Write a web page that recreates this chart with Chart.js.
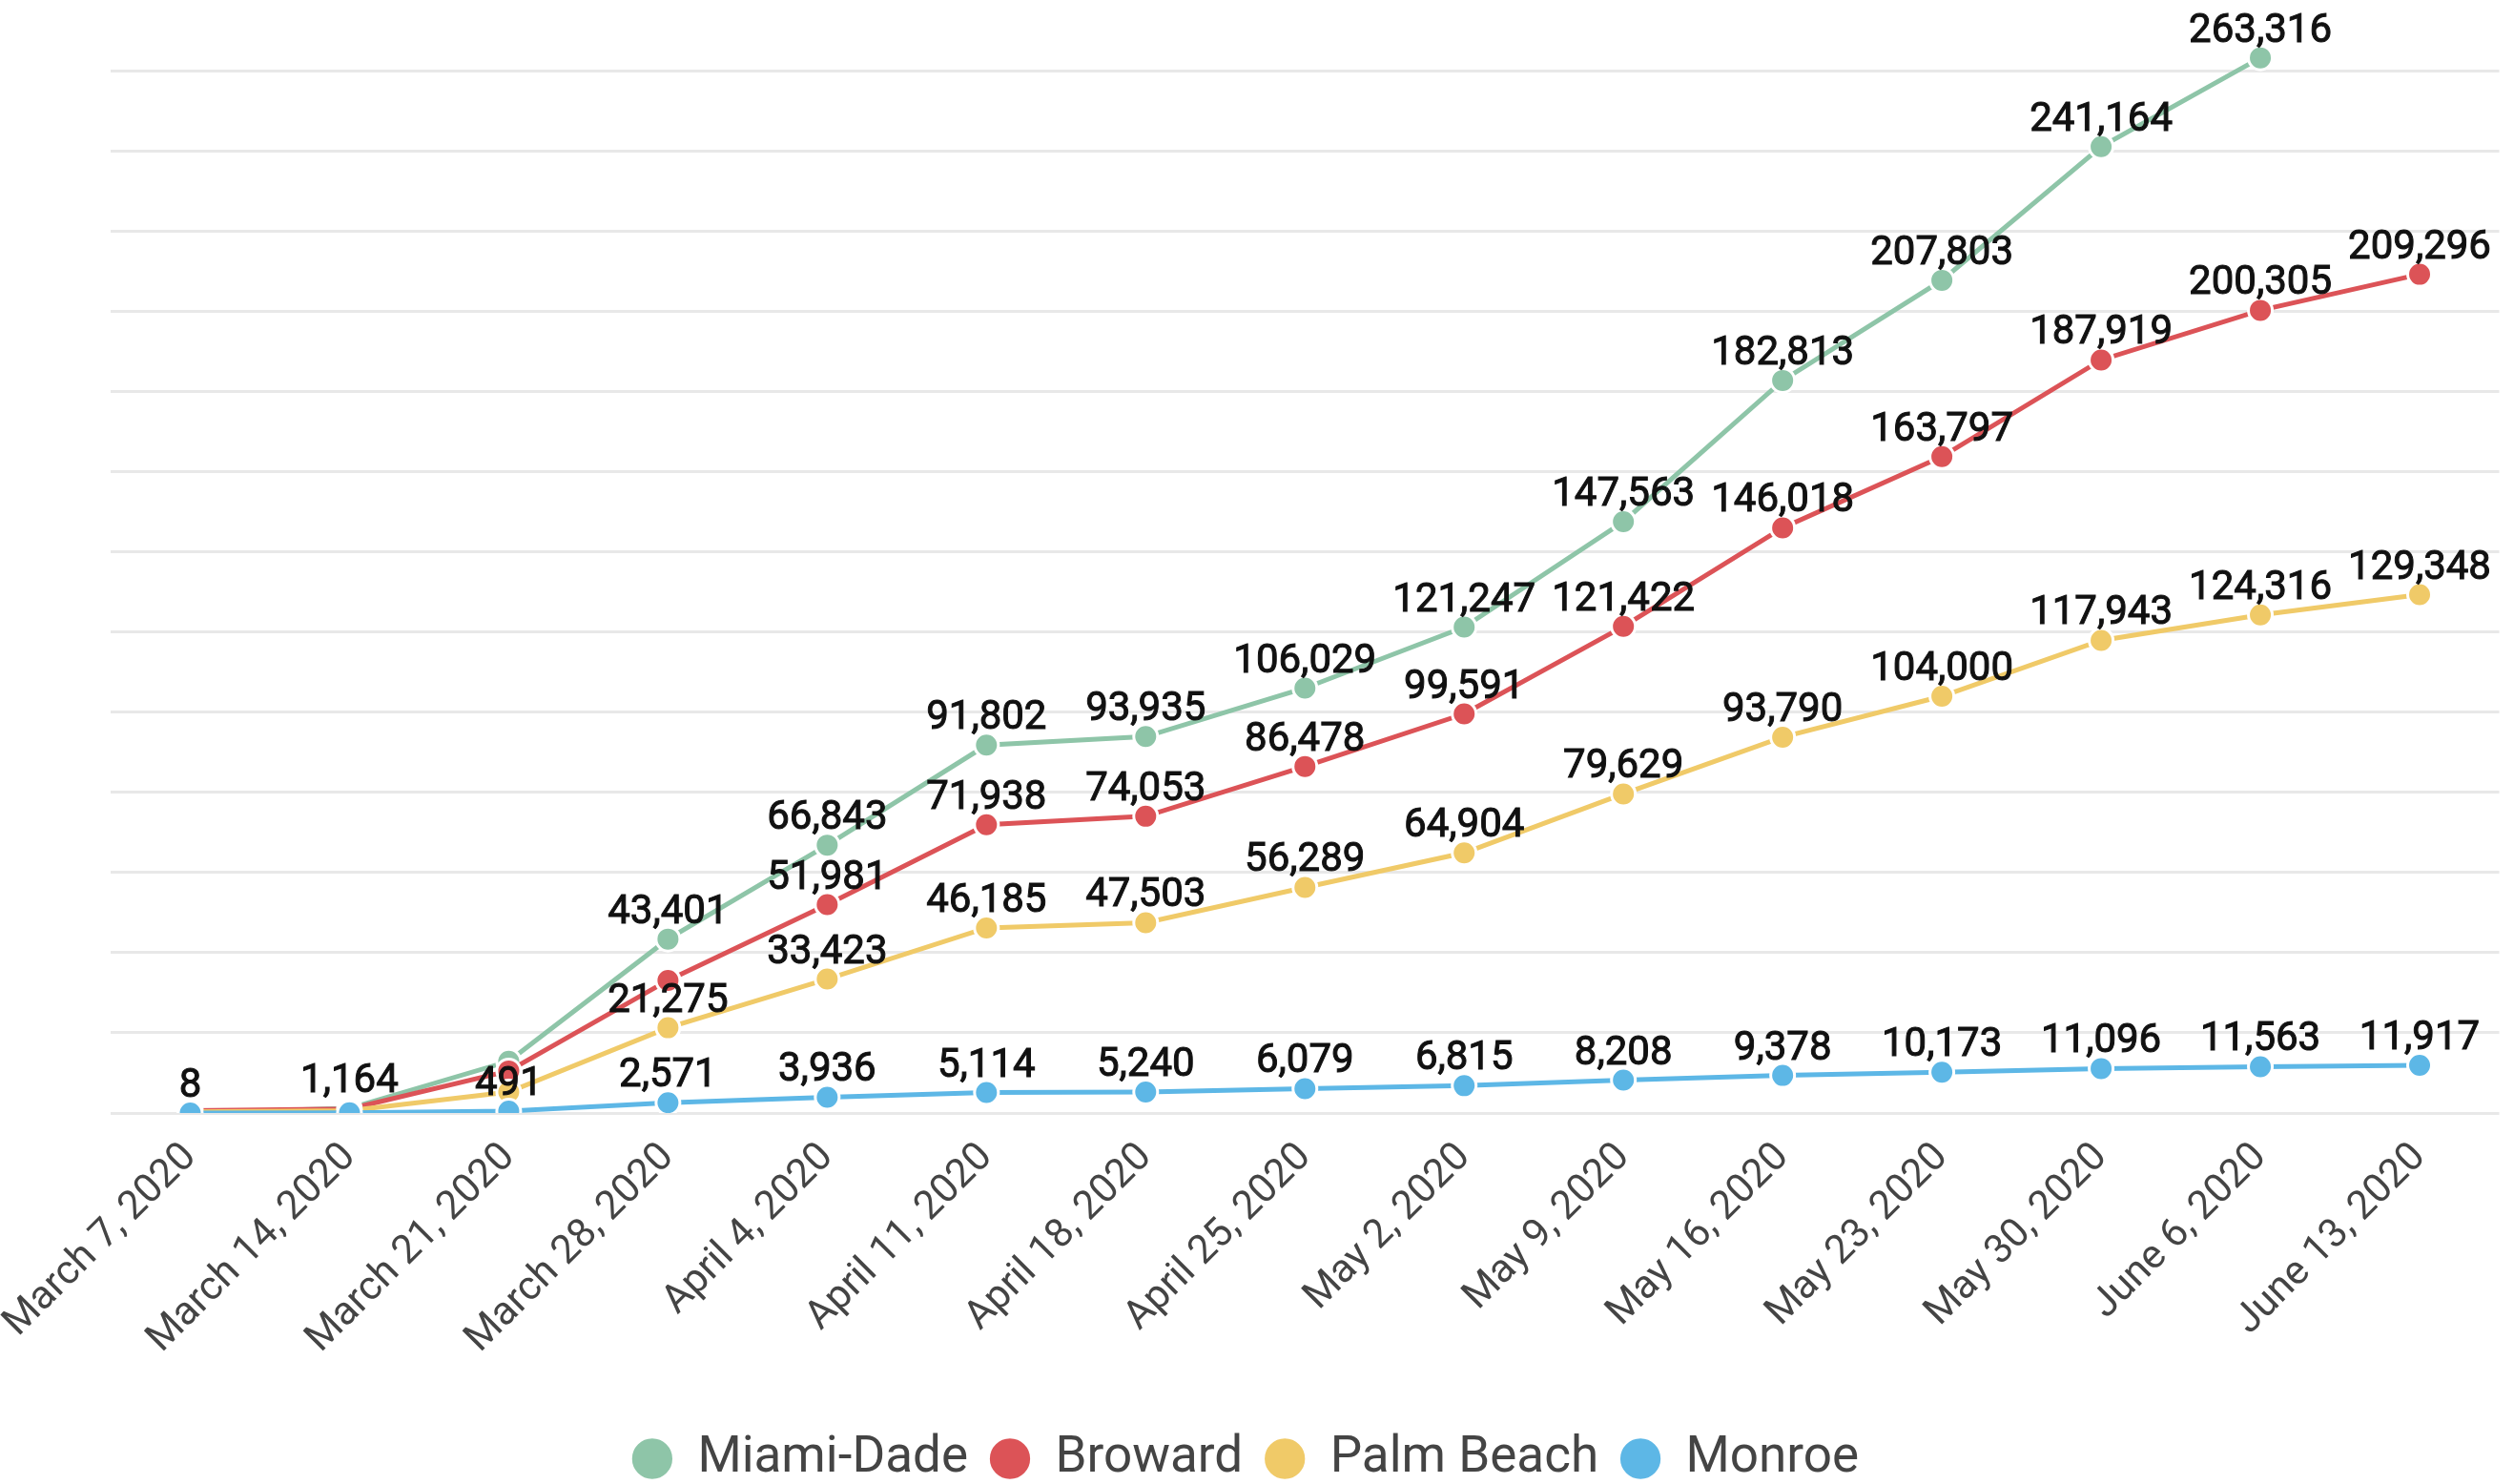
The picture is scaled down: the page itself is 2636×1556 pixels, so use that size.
<!DOCTYPE html>
<html>
<head>
<meta charset="utf-8">
<script src="https://cdn.jsdelivr.net/npm/chart.js@4.4.1/dist/chart.umd.min.js"></script>
<style>
  html, body { margin: 0; padding: 0; background: #fff; }
  #wrap { width: 2636px; height: 1556px; }
</style>
</head>
<body>
<div id="wrap"><canvas id="line-chart"></canvas></div>
<script>
// weekly dates
const weeks = ['March 7, 2020', 'March 14, 2020', 'March 21, 2020', 'March 28, 2020', 'April 4, 2020',
    'April 11, 2020', 'April 18, 2020', 'April 25, 2020', 'May 2, 2020', 'May 9, 2020',
    'May 16, 2020', 'May 23, 2020', 'May 30, 2020', 'June 6, 2020', 'June 13, 2020'];

// values per county (unlabelled early points)
const miamiDade = [8, 1164, 12900, 43401, 66843, 91802, 93935, 106029, 121247, 147563, 182813, 207803, 241164, 263316, null];
const broward = [600, 1000, 10500, 33100, 51981, 71938, 74053, 86478, 99591, 121422, 146018, 163797, 187919, 200305, 209296];
const palmBeach = [300, 600, 5240, 21275, 33423, 46185, 47503, 56289, 64904, 79629, 93790, 104000, 117943, 124316, 129348];
const monroe = [0, 50, 491, 2571, 3936, 5114, 5240, 6079, 6815, 8208, 9378, 10173, 11096, 11563, 11917];

// points whose value label is not shown in the original
const hiddenMiamiDade = [2];
const hiddenBroward = [0, 1, 2, 3];
const hiddenPalmBeach = [0, 1, 2];
const hiddenMonroe = [0, 1];

// gridlines every 20k up to 260k
const gridStep = 20000;
const gridTop = 260000;

Chart.defaults.font.family = 'Roboto';

function makeSet(label, data, color, order, hidden) {
    return {
        label: label,
        data: data,
        borderColor: color,
        backgroundColor: color,
        pointBackgroundColor: color,
        pointBorderColor: '#fff',
        pointBorderWidth: 3,
        pointRadius: 12.5,
        borderWidth: 5,
        tension: 0,
        order: order,
        hiddenLabels: hidden
    };
}

// draws the value above every point
const valueLabels = {
    id: 'valueLabels',
    afterDatasetsDraw(chart) {
        const ctx = chart.ctx;
        ctx.save();
        ctx.font = '42px Roboto';
        ctx.fillStyle = '#111';
        ctx.strokeStyle = '#111';
        ctx.lineWidth = 1;
        ctx.textAlign = 'center';
        ctx.textBaseline = 'alphabetic';
        chart.data.datasets.forEach((ds, i) => {
            const meta = chart.getDatasetMeta(i);
            meta.data.forEach((pt, j) => {
                const v = ds.data[j];
                if (v === null || ds.hiddenLabels.includes(j)) return;
                const txt = v.toLocaleString('en-US');
                ctx.fillText(txt, pt.x, pt.y - 17);
                ctx.strokeText(txt, pt.x, pt.y - 17);
            });
        });
        ctx.restore();
    }
};

const ctx = document.getElementById('line-chart').getContext('2d');
new Chart(ctx, {
    type: 'line',
    data: {
        labels: weeks,
        datasets: [
            makeSet('Miami-Dade', miamiDade, '#8ec5a8', 4, hiddenMiamiDade),
            makeSet('Broward', broward, '#dc5357', 3, hiddenBroward),
            makeSet('Palm Beach', palmBeach, '#f0ca68', 2, hiddenPalmBeach),
            makeSet('Monroe', monroe, '#5db7e6', 1, hiddenMonroe)
        ]
    },
    options: {
        responsive: true,
        maintainAspectRatio: false,
        animation: false,
        layout: { padding: { top: 0, left: -24, right: 0, bottom: -10 } },
        plugins: {
            tooltip: { enabled: false },
            legend: {
                position: 'bottom',
                labels: {
                    usePointStyle: true,
                    pointStyle: 'circle',
                    boxHeight: 32,
                    boxWidth: 42,
                    padding: 23,
                    color: '#444',
                    font: { size: 53 },
                    sort: (a, b) => a.datasetIndex - b.datasetIndex
                }
            }
        },
        scales: {
            x: {
                offset: true,
                grid: { display: false },
                border: { display: false },
                ticks: {
                    color: '#444',
                    font: { size: 42 },
                    minRotation: 45,
                    maxRotation: 45,
                    padding: 14
                },
                afterFit(scale) {
                    scale.paddingLeft = 116;
                    scale.paddingRight = 0;
                    scale.height = 313;
                }
            },
            y: {
                min: 0,
                max: 274060,
                border: { display: false },
                grid: { color: '#e8e8e8', lineWidth: 3, drawTicks: false },
                ticks: { display: false },
                afterBuildTicks(scale) {
                    const t = [];
                    for (let v = 0; v <= gridTop; v += gridStep) t.push({ value: v });
                    scale.ticks = t;
                }
            }
        }
    },
    plugins: [valueLabels]
});
</script>
</body>
</html>
